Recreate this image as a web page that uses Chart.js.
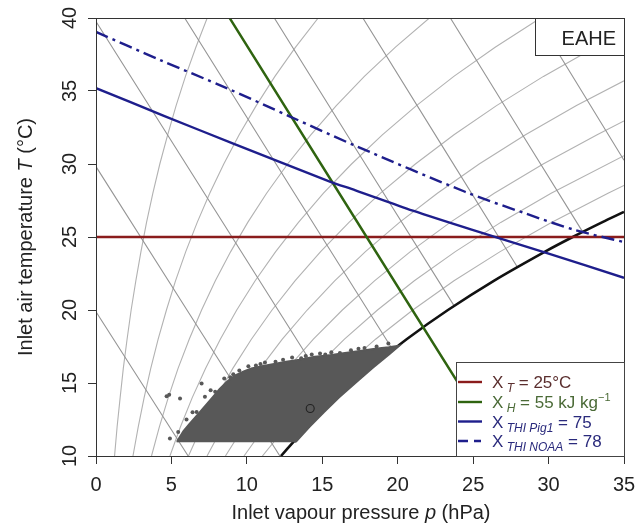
<!DOCTYPE html>
<html><head><meta charset="utf-8">
<script src="https://cdn.jsdelivr.net/npm/chart.js@4.4.0/dist/chart.umd.min.js"></script>
<style>html,body{margin:0;padding:0;background:#fff}#wrap{width:637px;height:530px;position:relative}</style>
</head><body><div id="wrap"><canvas id="c" width="637" height="530"></canvas></div>
<script>
const F = "'Liberation Sans', Arial, Helvetica, sans-serif";

// tick values
const xTickVals = [0, 5, 10, 15, 20, 25, 30, 35];
const yTickVals = [10, 15, 20, 25, 30, 35, 40];

// saturation curve [p (hPa), T (°C)]
const satCurve = [[12.26,10],[13.12,11],[14.00,12],[15.95,14],[18.14,16],[20.59,18],[23.33,20],[26.37,22],[29.77,24],[31.60,25],[33.54,26],[35.0,26.72]];

// relative humidity grid curves [p, T]
const rh10 = [[1.23,10],[1.40,12],[1.60,14],[1.81,16],[2.06,18],[2.33,20],[2.64,22],[2.98,24],[3.35,26],[3.77,28],[4.23,30],[4.75,32],[5.31,34],[5.93,36],[6.62,38],[7.37,40]];
const rh20 = [[2.45,10],[2.80,12],[3.19,14],[3.63,16],[4.12,18],[4.67,20],[5.27,22],[5.95,24],[6.71,26],[7.54,28],[8.47,30],[9.49,32],[10.62,34],[11.86,36],[13.23,38],[14.73,40]];
const rh30 = [[3.68,10],[4.20,12],[4.79,14],[5.44,16],[6.18,18],[7.00,20],[7.91,22],[8.93,24],[10.06,26],[11.31,28],[12.70,30],[14.24,32],[15.93,34],[17.79,36],[19.85,38],[22.10,40]];
const rh40 = [[4.90,10],[5.60,12],[6.38,14],[7.26,16],[8.24,18],[9.33,20],[10.55,22],[11.91,24],[13.42,26],[15.08,28],[16.94,30],[18.98,32],[21.24,34],[23.72,36],[26.46,38],[29.47,40]];
const rh50 = [[6.13,10],[7.00,12],[7.98,14],[9.07,16],[10.30,18],[11.67,20],[13.19,22],[14.89,24],[16.77,26],[18.86,28],[21.17,30],[23.73,32],[26.55,34],[29.66,36],[33.08,38],[35.0,39.05]];
const rh60 = [[7.36,10],[8.40,12],[9.57,14],[10.88,16],[12.35,18],[14.00,20],[15.82,22],[17.86,24],[20.12,26],[22.63,28],[25.40,30],[28.47,32],[31.85,34],[35.0,35.7]];
const rh70 = [[8.58,10],[9.80,12],[11.17,14],[12.70,16],[14.41,18],[16.33,20],[18.46,22],[20.84,24],[23.48,26],[26.40,28],[29.64,30],[33.22,32],[35.0,32.95]];
const rh80 = [[9.81,10],[11.20,12],[12.76,14],[14.51,16],[16.47,18],[18.66,20],[21.10,22],[23.82,24],[26.83,26],[30.17,28],[35.0,30.57]];
const rh90 = [[11.03,10],[12.60,12],[14.36,14],[16.33,16],[18.53,18],[21.00,20],[23.73,22],[26.79,24],[30.19,26],[33.94,28],[35.0,28.53]];

// enthalpy grid lines [p, T]
const h20 = [[0,19.88],[3.02,15],[6.11,10]];
const h30 = [[0,29.82],[6.03,20],[12.19,10]];
const h40 = [[0,39.76],[7.79,27],[15.81,13.87]];
const h50 = [[5.88,40],[13.15,28],[19.66,17.3]];
const h60 = [[11.82,40],[17.85,30],[23.73,20.3]];
const h70 = [[17.69,40],[22.79,31.5],[27.93,22.95]];
const h80 = [[23.49,40],[27.97,32.5],[32.25,25.37]];
const h90 = [[29.22,40],[32.19,35],[35.0,30.26]];

// threshold lines
const thrT = [[0,25],[35,25]];
const thrH = [[8.86,40],[14.91,30],[20.97,20],[27.04,10]];
const thrPig = [[0,35.2],[4.5,33.3],[9.1,31.4],[15.5,28.8],[17.2,28.2],[21.0,26.8],[24.9,25.5],[29.9,23.9],[35,22.2]];
const thrNoaa = [[0,39.05],[4.3,37.1],[8.66,35.2],[12.86,33.25],[17.3,31.2],[24.46,28.1],[28.5,26.6],[31.75,25.48],[35,24.65]];

// measured data cloud outline [p, T]
const cloudOutline = [[5.4,10.95],[5.4,11.05],[5.8,11.7],[6.2,12.2],[6.8,12.9],[7.3,13.5],[7.8,14.1],[8.2,14.6],[8.7,15.1],[9.2,15.5],[9.8,15.8],[10.3,16.0],[11.0,16.15],[11.8,16.3],[12.6,16.45],[13.5,16.6],[14.5,16.8],[15.5,16.9],[16.5,17.05],[17.5,17.2],[18.5,17.35],[19.4,17.45],[20.1,17.55],[19.48,17],[18.29,16],[17.19,15],[16.10,14],[15.10,13],[14.15,12],[13.27,11],[13.15,10.95]];
// scattered samples at the ragged edge of the dense part
const cloudDots = [[4.68,14.1],[4.85,14.2],[5.57,13.94],[4.9,11.2],[5.45,11.65],[6.67,13.02],[7.0,14.97],[7.22,14.05],[6.4,13.0],[6.0,12.5],[9.1,15.6],[8.5,15.3],[9.5,15.85],[10.1,16.15],[10.6,16.2],[11.2,16.4],[11.9,16.45],[12.4,16.6],[13.0,16.75],[13.6,16.7],[14.85,17.02],[15.2,16.95],[15.6,17.1],[16.17,17.05],[16.9,17.25],[17.4,17.35],[17.8,17.4],[18.6,17.5],[19.38,17.71],[7.6,14.5],[7.9,14.4],[10.9,16.3],[13.9,16.85],[14.3,16.95],[8.9,15.4]];
const meanPoint = [[14.2,13.25]];

const P = a => a.map(([x,y]) => ({x, y}));
const gridLine = (d, color, order) => ({data: P(d), showLine: true, borderColor: color, borderWidth: 1.1, pointRadius: 0, fill: false, tension: 0, order});

const RHC = '#b2b2b2', HC = '#959595';
const datasets = [
  ...[rh10,rh20,rh30,rh40,rh50,rh60,rh70,rh80,rh90].map(d => gridLine(d, RHC, 20)),
  ...[h20,h30,h40,h50,h60,h70,h80,h90].map(d => gridLine(d, HC, 19)),
  {data: P(satCurve), showLine: true, borderColor: '#111', borderWidth: 2.6, pointRadius: 0, tension: 0.3, order: 15},
  {data: P(cloudOutline), showLine: true, borderColor: '#585858', borderWidth: 2, backgroundColor: '#585858', pointRadius: 0, fill: 'shape', tension: 0, order: 12},
  {data: P(cloudDots), showLine: false, pointRadius: 2, pointBackgroundColor: '#585858', pointBorderWidth: 0, order: 11},
  {data: P(meanPoint), showLine: false, pointRadius: 4, pointBackgroundColor: 'rgba(0,0,0,0)', pointBorderColor: '#222', pointBorderWidth: 1.1, order: 10},
  {data: P(thrT), showLine: true, borderColor: '#8a1c1c', borderWidth: 2.4, pointRadius: 0, order: 4},
  {data: P(thrH), showLine: true, borderColor: '#2f6410', borderWidth: 2.4, pointRadius: 0, order: 3},
  {data: P(thrPig), showLine: true, borderColor: '#1e1e8c', borderWidth: 2.4, pointRadius: 0, tension: 0.3, order: 2},
  {data: P(thrNoaa), showLine: true, borderColor: '#1e1e8c', borderWidth: 2.4, pointRadius: 0, tension: 0.3, borderDash: [13,5,3,5], order: 1}
];

function drawParts(ctx, parts, x, y, align) {
  let w = 0;
  parts.forEach(p => { ctx.font = (p.italic ? 'italic ' : '') + p.size + 'px ' + F; p.w = ctx.measureText(p.t).width; w += p.w; });
  let cx = align === 'center' ? x - w / 2 : x;
  ctx.textAlign = 'left'; ctx.textBaseline = 'alphabetic';
  parts.forEach(p => {
    ctx.font = (p.italic ? 'italic ' : '') + p.size + 'px ' + F;
    ctx.fillStyle = p.color || '#222';
    ctx.fillText(p.t, cx, y + (p.dy || 0));
    cx += p.w;
  });
}

const decor = {
  id: 'decor',
  afterDatasetsDraw(chart) {
    const ctx = chart.ctx, a = chart.chartArea;
    ctx.save();
    // frame
    ctx.strokeStyle = '#333'; ctx.lineWidth = 1;
    ctx.strokeRect(Math.round(a.left) + 0.5, Math.round(a.top) + 0.5, Math.round(a.right - a.left), Math.round(a.bottom - a.top));
    // EAHE box
    const ex = 535, ey = Math.round(a.top);
    ctx.fillStyle = '#fff'; ctx.fillRect(ex, ey, a.right - ex, 55 - ey);
    ctx.strokeRect(ex + 0.5, ey + 0.5, Math.round(a.right - ex), 55 - ey);
    ctx.fillStyle = '#222'; ctx.font = '20px ' + F; ctx.textAlign = 'right'; ctx.textBaseline = 'alphabetic';
    ctx.fillText('EAHE', a.right - 8, 45);
    // legend box
    const lx = 456, ly = 362;
    ctx.fillStyle = '#fff'; ctx.fillRect(lx, ly, a.right - lx, a.bottom - ly);
    ctx.strokeStyle = '#444';
    ctx.strokeRect(lx + 0.5, ly + 0.5, Math.round(a.right - lx), Math.round(a.bottom - ly));
    const rows = [
      {y: 382, c: '#8a1c1c', tc: '#5a2e2e', dash: [], parts: [{t:'X',size:17},{t:' T',size:12,italic:true,dy:4},{t:' = 25°C',size:17}]},
      {y: 402, c: '#2f6410', tc: '#4a6a36', dash: [], parts: [{t:'X',size:17},{t:' H',size:12,italic:true,dy:4},{t:' = 55 kJ kg',size:17},{t:'−1',size:11,dy:-7}]},
      {y: 421.5, c: '#1e1e8c', tc: '#2a2a7c', dash: [], parts: [{t:'X',size:17},{t:' THI Pig1',size:12,italic:true,dy:4},{t:' = 75',size:17}]},
      {y: 441, c: '#1e1e8c', tc: '#2a2a7c', dash: [10,6,7,20], parts: [{t:'X',size:17},{t:' THI NOAA',size:12,italic:true,dy:4},{t:' = 78',size:17}]}
    ];
    rows.forEach(r => {
      ctx.strokeStyle = r.c; ctx.lineWidth = 2.4; ctx.setLineDash(r.dash);
      ctx.beginPath(); ctx.moveTo(458, r.y); ctx.lineTo(482, r.y); ctx.stroke();
      ctx.setLineDash([]);
      r.parts.forEach(p => p.color = r.tc);
      drawParts(ctx, r.parts, 492, r.y + 6, 'left');
    });
    ctx.restore();
  },
  afterDraw(chart) {
    const ctx = chart.ctx, xs = chart.scales.x, ys = chart.scales.y, a = chart.chartArea;
    ctx.save();
    ctx.fillStyle = '#222'; ctx.font = '20px ' + F; ctx.textAlign = 'center'; ctx.textBaseline = 'alphabetic';
    yTickVals.forEach(v => {
      const py = ys.getPixelForValue(v);
      ctx.save(); ctx.translate(69, py); ctx.rotate(-Math.PI / 2);
      ctx.fillText(String(v), 0, 7.2); ctx.restore();
    });
    xTickVals.forEach(v => {
      ctx.fillText(String(v), xs.getPixelForValue(v), 491);
    });
    // axis titles
    drawParts(ctx, [{t:'Inlet vapour pressure ',size:20},{t:'p',size:20,italic:true},{t:' (hPa)',size:20}], (a.left + a.right) / 2 + 1, 519, 'center');
    ctx.save(); ctx.translate(32, (a.top + a.bottom) / 2); ctx.rotate(-Math.PI / 2);
    drawParts(ctx, [{t:'Inlet air temperature ',size:20},{t:'T',size:20,italic:true},{t:' (°C)',size:20}], 0, 0, 'center');
    ctx.restore();
    ctx.restore();
  }
};

new Chart(document.getElementById('c'), {
  type: 'scatter',
  data: {datasets},
  options: {
    responsive: false, animation: false, events: [],
    layout: {padding: {top: 18, right: 13, left: 0, bottom: 0}},
    plugins: {legend: {display: false}, tooltip: {enabled: false}},
    scales: {
      x: {type: 'linear', min: 0, max: 35,
          afterFit: s => { s.height = 74; s.paddingLeft = 0; s.paddingRight = 0; },
          afterBuildTicks: s => { s.ticks = xTickVals.map(v => ({value: v})); },
          ticks: {display: false, stepSize: 5},
          grid: {drawOnChartArea: false, drawTicks: true, tickLength: 8, tickColor: '#333', tickWidth: 1},
          border: {display: false}},
      y: {type: 'linear', min: 10, max: 40,
          afterFit: s => { s.width = 96; s.paddingTop = 0; s.paddingBottom = 0; },
          afterBuildTicks: s => { s.ticks = yTickVals.map(v => ({value: v})); },
          ticks: {display: false, stepSize: 5},
          grid: {drawOnChartArea: false, drawTicks: true, tickLength: 8, tickColor: '#333', tickWidth: 1},
          border: {display: false}}
    }
  },
  plugins: [decor]
});
</script></body></html>
